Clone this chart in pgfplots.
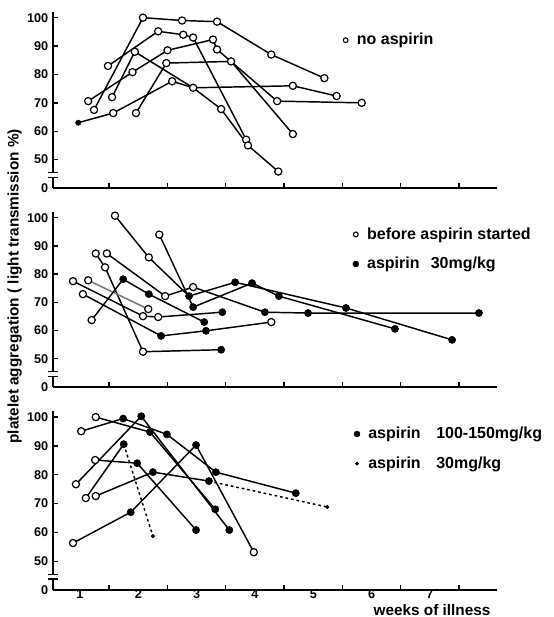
\documentclass[border=0pt]{standalone}
\usepackage{fontspec}
\setmainfont{Liberation Sans}
\usepackage{pgfplots}
\pgfplotsset{compat=1.18}

\pgfplotsset{
  panel/.style={scale only axis, width=333pt, xmin=0.537, xmax=8.15, ymin=40, ymax=102,
    anchor=south west, axis lines=left, axis line style={-, line width=1.1pt},
    tick align=inside, major tick length=4pt, tick style={black, line width=1pt},
    ytick={40,50,...,100}, yticklabels={0,50,60,70,80,90,100},
    xtick={1.5,2.5,...,7.5}, xticklabels={}, clip=false,
    /pgf/number format/assume math mode=true,
    tick label style={font=\bfseries\fontsize{9.5}{10}\selectfont},
    legend style={draw=none, fill=none, anchor=north west, row sep=8pt,
      font=\bfseries\fontsize{12}{14}\selectfont, inner sep=0pt},
    legend cell align=left},
  seg/.style={black, line width=1.1pt, no marks, forget plot},
  dotseg/.style={seg, dash pattern=on 2pt off 2.2pt},
  openpt/.style={only marks, mark=*, mark size=2.7pt, mark options={fill=white, draw=black, line width=0.9pt},
    legend image code/.code={\draw[black, fill=white, line width=0.8pt] (0.1cm,0) circle (1.8pt); \path (0.32cm,0);}},
  fillpt/.style={only marks, mark=*, mark size=2.7pt, mark options={fill=black, draw=black},
    legend image code/.code={\fill[black] (0.1cm,0) circle (2.2pt); \path (0.32cm,0);}},
  smallpt/.style={only marks, mark=*, mark size=1.3pt, mark options={fill=black, draw=black},
    legend image code/.code={\fill[black] (0.1cm,0) circle (1.3pt); \path (0.32cm,0);}},
}
% broken y axis between 0 and 50
\newcommand{\ybreak}{%
  \fill[white] ([xshift=-4pt]axis cs:0.537,43.8) rectangle ([xshift=4pt]axis cs:0.537,45.4);
  \draw[line width=1pt] ([xshift=-3.5pt]axis cs:0.537,43.8) -- ([xshift=3.5pt]axis cs:0.537,43.8);
  \draw[line width=1pt] ([xshift=-3.5pt]axis cs:0.537,45.4) -- ([xshift=3.5pt]axis cs:0.537,45.4);}

\begin{document}
\begin{tikzpicture}
\path[use as bounding box] (0,0) rectangle (414.75pt,462.75pt);

% ---- top: no aspirin
\begin{axis}[panel, at={(39.75pt,321.75pt)}, height=132pt,
  legend style={at={(axis cs:5.5,95.5)}}]
\addplot[seg] coordinates {(1.24,67.5)(2.08,100)(2.75,99)(3.35,98.6)(4.28,87)(5.19,78.7)};
\addplot[seg] coordinates {(1.48,83)(2.34,95.2)(2.77,94)(2.94,93)(3.85,57)};
\addplot[seg] coordinates {(1.14,70.6)(1.9,80.8)(2.5,88.5)(3.28,92.3)(3.35,88.8)(4.38,70.6)(5.83,70)};
\addplot[seg] coordinates {(1.96,66.4)(2.48,84)(3.59,84.6)(4.65,59)};
\addplot[seg] coordinates {(0.97,63)(1.57,66.4)(2.58,77.6)(2.94,75.3)(4.65,76)(5.4,72.4)};
\addplot[seg] coordinates {(1.55,72)(1.94,88)(2.94,75.3)(3.42,67.8)(3.88,55)(4.4,45.8)};
\addplot[openpt] coordinates {
  (1.24,67.5)(2.08,100)(2.75,99)(3.35,98.6)(4.28,87)(5.19,78.7)
  (1.48,83)(2.34,95.2)(2.77,94)(2.94,93)(3.85,57)
  (1.14,70.6)(1.9,80.8)(2.5,88.5)(3.28,92.3)(3.35,88.8)(4.38,70.6)(5.83,70)
  (1.96,66.4)(2.48,84)(3.59,84.6)(4.65,59)
  (1.57,66.4)(2.58,77.6)(2.94,75.3)(4.65,76)(5.4,72.4)
  (1.55,72)(1.94,88)(3.42,67.8)(3.88,55)(4.4,45.8)};
\addlegendentry{no aspirin}
\addplot[fillpt, mark size=2pt, forget plot] coordinates {(0.97,63)};
\ybreak
\end{axis}

% ---- middle: before aspirin / aspirin 30 mg/kg
\begin{axis}[panel, at={(39.75pt,172.5pt)}, height=131.25pt,
  legend style={at={(axis cs:5.67,97.5)}}]
\addplot[seg] coordinates {(1.6,100.7)(2.18,85.9)(2.87,72.2)(3.66,77.1)(5.56,68)(7.38,56.7)};
\addplot[seg] coordinates {(2.36,94)(2.94,68.3)(3.95,76.8)(4.41,72.2)(6.4,60.6)};
\addplot[seg] coordinates {(1.46,87.3)(2.46,72.2)(2.94,75.4)(4.17,66.5)(4.91,66.2)(7.84,66.2)};
\addplot[seg] coordinates {(1.27,87.3)(1.43,82.4)(2.08,52.5)(3.42,53.2)};
\addplot[seg] coordinates {(0.88,77.5)(2.08,65.1)(2.34,64.8)(3.44,66.5)};
\addplot[seg, black!55] coordinates {(1.14,77.8)(2.17,67.6)};
\addplot[seg] coordinates {(1.05,72.9)(2.39,58.1)(3.16,59.9)(4.28,63)};
\addplot[seg] coordinates {(1.2,63.7)(1.74,78.2)(2.18,72.9)(3.13,63)};
\addplot[openpt] coordinates {
  (1.6,100.7)(2.18,85.9)(2.36,94)(1.46,87.3)(2.46,72.2)(2.94,75.4)
  (1.27,87.3)(1.43,82.4)(2.08,52.5)(0.88,77.5)(2.08,65.1)(2.34,64.8)
  (1.14,77.8)(2.17,67.6)(1.05,72.9)(4.28,63)(1.2,63.7)};
\addlegendentry{before aspirin started}
\addplot[fillpt] coordinates {
  (2.87,72.2)(3.66,77.1)(5.56,68)(7.38,56.7)
  (2.94,68.3)(3.95,76.8)(4.41,72.2)(6.4,60.6)
  (4.17,66.5)(4.91,66.2)(7.84,66.2)(3.42,53.2)(3.44,66.5)
  (2.39,58.1)(3.16,59.9)(1.74,78.2)(2.18,72.9)(3.13,63)};
\addlegendentry{aspirin\hspace{0.7em}30mg/kg}
\ybreak
\end{axis}

% ---- bottom: aspirin 100-150 mg/kg and 30 mg/kg
\begin{axis}[panel, at={(39.75pt,20.25pt)}, height=134pt,
  extra x ticks={1,2,...,7}, extra x tick labels={1,2,3,4,5,6,7},
  extra x tick style={major tick length=0pt, tick label style={yshift=1.5pt, inner sep=1pt}},
  legend style={at={(axis cs:5.69,97.5)}}]
\addplot[seg] coordinates {(0.88,56.3)(1.87,67)(2.99,90.3)(3.98,53.1)};
\addplot[seg] coordinates {(0.93,76.7)(2.05,100.3)(3.56,60.8)};
\addplot[seg] coordinates {(1.02,95.1)(1.74,99.5)(2.49,94)(3.33,80.9)(4.7,73.6)};
\addplot[seg] coordinates {(1.27,100)(2.2,94.8)(3.32,68)};
\addplot[seg] coordinates {(1.1,71.9)(1.75,90.6)};
\addplot[dotseg] coordinates {(1.75,90.6)(2.25,58.7)};
\addplot[seg] coordinates {(1.26,85.1)(1.98,84)(2.99,60.8)};
\addplot[seg] coordinates {(1.27,72.6)(2.25,80.9)(3.21,77.8)};
\addplot[dotseg] coordinates {(3.21,77.8)(5.24,68.8)};
\addplot[openpt, forget plot] coordinates {
  (0.88,56.3)(3.98,53.1)(0.93,76.7)(1.02,95.1)(1.27,100)(1.1,71.9)(1.26,85.1)(1.27,72.6)};
\addplot[fillpt] coordinates {
  (1.87,67)(2.99,90.3)(2.05,100.3)(3.56,60.8)(1.74,99.5)(2.49,94)(3.33,80.9)(4.7,73.6)
  (2.2,94.8)(3.32,68)(1.75,90.6)(1.98,84)(2.99,60.8)(2.25,80.9)(3.21,77.8)};
\addlegendentry{\makebox[51pt][l]{aspirin}100-150mg/kg}
\addplot[smallpt] coordinates {(2.25,58.7)(5.24,68.8)};
\addlegendentry{\makebox[51pt][l]{aspirin}30mg/kg}
\ybreak
\end{axis}

\node[rotate=90, font=\bfseries\fontsize{11.5}{13}\selectfont] at (11pt,248pt)
  {platelet aggregation ( light transmission \%)};
\node[font=\bfseries\fontsize{11.5}{13}\selectfont, inner sep=0pt, anchor=base] at (324pt,1.2pt) {weeks of illness};
\end{tikzpicture}
\end{document}
